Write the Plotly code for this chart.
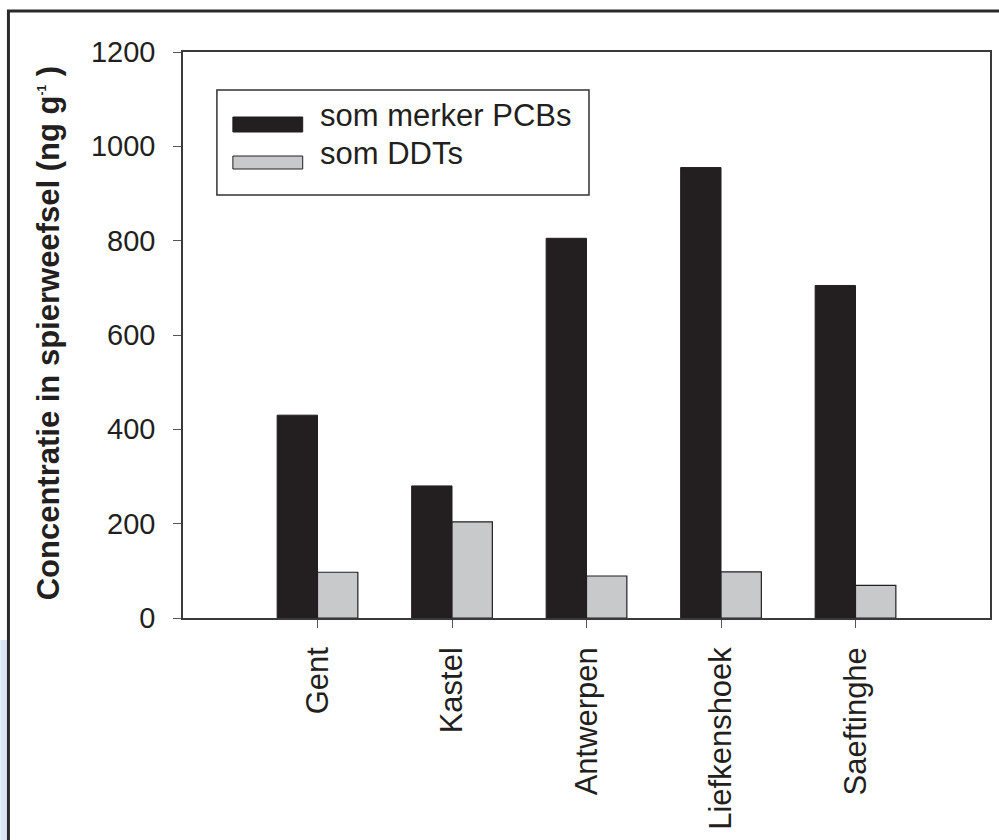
import plotly.graph_objects as go

categories = ["Gent", "Kastel", "Antwerpen", "Liefkenshoek", "Saeftinghe"]
pcb_name = "som merker PCBs"
ddt_name = "som DDTs"
pcb_values = [430, 280, 805, 955, 705]
ddt_values = [97, 204, 89, 98, 69]
y_ticks = [0, 200, 400, 600, 800, 1000, 1200]

W, H = 999, 840
L, R, T, B = 183, 992, 52, 618  # plot area in pixels


def px(x):
    return (x - L) / (R - L)


def py(y):
    return (B - y) / (B - T)


FONT = "Liberation Sans, Arial, Helvetica, sans-serif"
DARK = "#231f20"
GREY = "#c8c9cb"

fig = go.Figure()
fig.add_trace(go.Bar(x=categories, y=pcb_values, name=pcb_name,
                     marker=dict(color=DARK, line=dict(color=DARK, width=1))))
fig.add_trace(go.Bar(x=categories, y=ddt_values, name=ddt_name,
                     marker=dict(color=GREY, line=dict(color=DARK, width=1.2))))

fig.update_layout(
    width=W, height=H,
    margin=dict(l=L, r=W - R, t=T, b=H - B),
    paper_bgcolor="white", plot_bgcolor="white",
    barmode="group", bargap=0.4, bargroupgap=0,
    showlegend=False,
    font=dict(family=FONT, color=DARK, size=29),
)
fig.update_xaxes(
    type="category", range=[-1, 5], showgrid=False, zeroline=False,
    showline=True, linecolor="#3a3a3a", linewidth=1.5, mirror=True,
    ticks="outside", ticklen=8, tickcolor="#555", tickwidth=1,
    tickangle=-90, tickfont=dict(size=31, family=FONT, color=DARK),
    ticklabelstandoff=7,
)
fig.update_yaxes(
    range=[0, 1200], tickvals=y_ticks, showgrid=False, zeroline=False,
    showline=True, linecolor="#3a3a3a", linewidth=1.5, mirror=True,
    ticks="outside", ticklen=8, tickcolor="#555", tickwidth=1,
    tickfont=dict(size=29, family=FONT, color=DARK),
    ticklabelstandoff=12,
)

# Y-axis title
fig.add_annotation(
    text="<b>Concentratie in spierweefsel (ng g<sup><span style='font-size:12px'>-1</span></sup> )</b>",
    xref="paper", yref="paper", x=px(48), y=py(333), textangle=-90,
    xanchor="center", yanchor="middle", showarrow=False,
    font=dict(size=31, family=FONT, color=DARK),
)

# Custom legend
shapes = [
    dict(type="rect", xref="paper", yref="paper", x0=px(217), x1=px(590), y0=py(195), y1=py(90),
         line=dict(color="#333", width=1.5), fillcolor="white", layer="above"),
    dict(type="rect", xref="paper", yref="paper", x0=px(233), x1=px(303), y0=py(132), y1=py(117),
         line=dict(color=DARK, width=1), fillcolor=DARK, layer="above"),
    dict(type="rect", xref="paper", yref="paper", x0=px(233), x1=px(303), y0=py(169), y1=py(156),
         line=dict(color=DARK, width=1), fillcolor=GREY, layer="above"),
    # outer frame
    dict(type="rect", xref="paper", yref="paper", x0=px(8), x1=px(1010), y0=py(860), y1=py(11),
         line=dict(color="#2a2a2a", width=3), fillcolor="rgba(0,0,0,0)", layer="above"),
    # faint blue background at left edge
    dict(type="rect", xref="paper", yref="paper", x0=px(0), x1=px(6.5), y0=py(840), y1=py(640),
         line=dict(width=0), fillcolor="rgba(190,215,235,0.6)", layer="below"),
]
fig.update_layout(shapes=shapes)
fig.add_annotation(text=pcb_name, xref="paper", yref="paper", x=px(318), y=py(115),
                   xanchor="left", yanchor="middle", showarrow=False,
                   font=dict(size=31, family=FONT, color=DARK))
fig.add_annotation(text=ddt_name, xref="paper", yref="paper", x=px(318), y=py(154),
                   xanchor="left", yanchor="middle", showarrow=False,
                   font=dict(size=31, family=FONT, color=DARK))

fig.write_html("out.html", config={"displayModeBar": False},
               post_script="document.body.style.margin='0';document.body.style.overflow='hidden';")
